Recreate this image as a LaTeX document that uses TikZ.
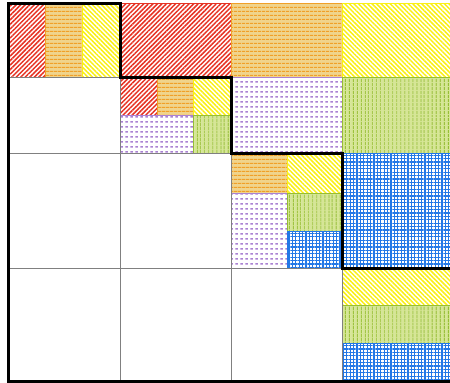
\documentclass[tikz,border=0pt]{standalone}
\usetikzlibrary{patterns, patterns.meta}

\definecolor{cRed}{RGB}{230,50,35}
\definecolor{cOrange}{RGB}{240,160,40}
\definecolor{cTan}{RGB}{240,212,140}
\definecolor{cYellow}{RGB}{250,240,20}
\definecolor{cPurple}{RGB}{170,130,210}
\definecolor{cGreen}{RGB}{150,190,50}
\definecolor{cLime}{RGB}{214,230,150}
\definecolor{cBlue}{RGB}{35,120,230}

% short dashes in rows for the purple blocks
\pgfdeclarepatternformonly{rowdash}{\pgfpointorigin}{\pgfpoint{5pt}{4.5pt}}{\pgfpoint{5pt}{4.5pt}}{
  \pgfpathrectangle{\pgfpoint{0.5pt}{1.4pt}}{\pgfpoint{3pt}{1.8pt}}
  \pgfusepath{fill}
}

\begin{document}
\begin{tikzpicture}[x=1pt, y=-1pt,
  redblk/.style={draw=cRed, line width=0.6pt,
    pattern={Lines[angle=45, distance=3.2pt, line width=1.5pt]}, pattern color=cRed},
  orablk/.style={draw=cOrange, line width=0.6pt, preaction={fill=cTan},
    pattern={Lines[angle=0, distance=4pt, line width=1pt]}, pattern color=cOrange},
  yelblk/.style={draw=cYellow, line width=0.6pt,
    pattern={Lines[angle=-45, distance=3.2pt, line width=1.5pt]}, pattern color=cYellow},
  purblk/.style={draw=cPurple, line width=0.6pt,
    pattern=rowdash, pattern color=cPurple},
  grnblk/.style={draw=cGreen, line width=0.6pt, preaction={fill=cLime},
    pattern={Lines[angle=90, distance=4pt, line width=1pt]}, pattern color=cGreen},
  blublk/.style={draw=cBlue, line width=0.6pt,
    pattern={Hatch[angle=0, distance=3.4pt, line width=1.3pt]}, pattern color=cBlue},
  gridline/.style={gray, line width=1pt},
  stair/.style={black, line width=3pt, line join=miter}]

  \useasboundingbox (0,0) rectangle (450,383);
  \clip (0,0) rectangle (450,383);

  % first block row
  \foreach \xa/\ya/\xb/\yb/\st in {8/3/45/77/redblk, 45/3/82/77/orablk, 82/3/120/77/yelblk,
      120/3/231/77/redblk, 231/3/342/77/orablk, 342/3/456/77/yelblk}{
    \path[\st] (\xa,\ya) rectangle (\xb,\yb);
  }

  % second block row
  \foreach \xa/\ya/\xb/\yb/\st in {120/77/157/115/redblk, 157/77/193/115/orablk,
      193/77/231/115/yelblk, 120/115/193/153/purblk, 193/115/231/153/grnblk,
      231/77/342/153/purblk, 342/77/456/153/grnblk}{
    \path[\st] (\xa,\ya) rectangle (\xb,\yb);
  }

  % third block row
  \foreach \xa/\ya/\xb/\yb/\st in {231/153/287/193/orablk, 287/153/342/193/yelblk,
      231/193/287/268/purblk, 287/193/342/231/grnblk, 287/231/342/268/blublk,
      342/153/456/268/blublk}{
    \path[\st] (\xa,\ya) rectangle (\xb,\yb);
  }

  % last block row
  \foreach \ya/\yb/\st in {268/305/yelblk, 305/343/grnblk, 343/381/blublk}{
    \path[\st] (342,\ya) rectangle (456,\yb);
  }

  % empty lower part
  \draw[gridline] (8,77) -- (120,77);
  \draw[gridline] (8,153) -- (231,153);
  \draw[gridline] (8,268) -- (342,268);
  \draw[gridline] (120,77) -- (120,381);
  \draw[gridline] (231,153) -- (231,381);
  \draw[gridline] (342,268) -- (342,381);

  % staircase outline
  \draw[stair] (456,381) -- (8,381) -- (8,3) -- (120,3) -- (120,77) -- (231,77)
    -- (231,153) -- (342,153) -- (342,268) -- (456,268);
\end{tikzpicture}
\end{document}
